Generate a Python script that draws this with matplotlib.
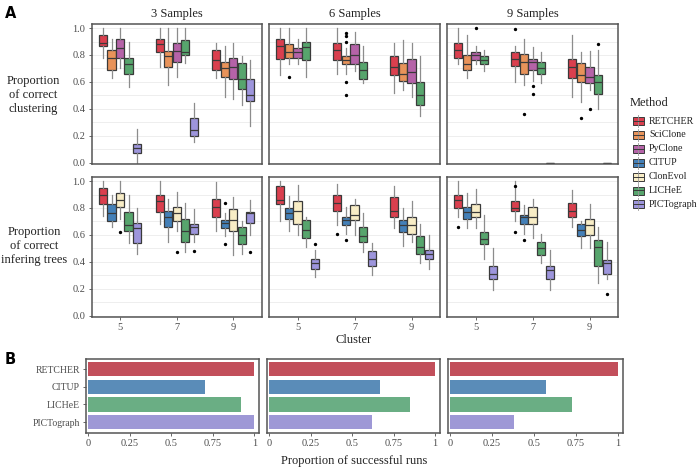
import matplotlib
matplotlib.use("Agg")
import matplotlib.pyplot as plt
from matplotlib.patches import Rectangle
import numpy as np

plt.rcParams["font.family"] = ["Liberation Serif", "DejaVu Serif"]

W, H = 700, 470

CLUSTERS = ["5", "7", "9"]
SAMPLES = ["3 Samples", "6 Samples", "9 Samples"]
METHODS = ["RETCHER", "SciClone", "PyClone", "CITUP", "ClonEvol", "LICHeE", "PICTograph"]
CLUST_METHODS = ["RETCHER", "SciClone", "PyClone", "LICHeE", "PICTograph"]
TREE_METHODS = ["RETCHER", "CITUP", "ClonEvol", "LICHeE", "PICTograph"]
BAR_METHODS = ["RETCHER", "CITUP", "LICHeE", "PICTograph"]

COLORS = {
    "RETCHER": "#DA3F4E",
    "SciClone": "#E8935A",
    "PyClone": "#B563A8",
    "CITUP": "#4480B8",
    "ClonEvol": "#F8EDC6",
    "LICHeE": "#57A56D",
    "PICTograph": "#9D95DC",
}
BAR_COLORS = {
    "RETCHER": "#C24F5B",
    "CITUP": "#5A8CB8",
    "LICHeE": "#6AAE84",
    "PICTograph": "#9E98D6",
}

# (whisker low, q1, median, q3, whisker high) for clusters 5, 7, 9
CLUST_S3 = {
    "RETCHER": [(0.78, 0.87, 0.89, 0.95, 1.00), (0.71, 0.82, 0.88, 0.92, 1.00), (0.63, 0.69, 0.76, 0.84, 0.89)],
    "SciClone": [(0.63, 0.69, 0.78, 0.84, 0.92), (0.58, 0.71, 0.79, 0.83, 1.00), (0.49, 0.64, 0.70, 0.75, 0.87)],
    "PyClone": [(0.70, 0.78, 0.85, 0.92, 1.00), (0.64, 0.75, 0.83, 0.89, 1.00), (0.47, 0.62, 0.71, 0.78, 0.89)],
    "LICHeE": [(0.56, 0.66, 0.73, 0.78, 0.90), (0.74, 0.80, 0.82, 0.91, 1.00), (0.43, 0.55, 0.62, 0.74, 0.79)],
    "PICTograph": [(0.00, 0.07, 0.11, 0.14, 0.25), (0.15, 0.20, 0.24, 0.33, 0.44), (0.27, 0.46, 0.50, 0.62, 0.76)],
}
CLUST_S6 = {
    "RETCHER": [(0.65, 0.77, 0.87, 0.92, 1.00), (0.66, 0.76, 0.84, 0.89, 1.00), (0.52, 0.65, 0.71, 0.79, 0.89)],
    "SciClone": [(0.73, 0.78, 0.82, 0.88, 1.00), (0.66, 0.73, 0.76, 0.79, 0.85), (0.54, 0.61, 0.66, 0.74, 0.91)],
    "PyClone": [(0.73, 0.78, 0.82, 0.85, 0.92), (0.68, 0.73, 0.80, 0.88, 0.97), (0.49, 0.59, 0.67, 0.77, 0.89)],
    "LICHeE": [(0.64, 0.76, 0.86, 0.90, 1.00), (0.59, 0.62, 0.69, 0.75, 0.87), (0.35, 0.43, 0.50, 0.60, 0.79)],
    "PICTograph": [None, None, None],
}
CLUST_S9 = {
    "RETCHER": [(0.73, 0.78, 0.84, 0.89, 1.00), (0.60, 0.72, 0.77, 0.82, 0.87), (0.49, 0.63, 0.71, 0.77, 0.95)],
    "SciClone": [(0.63, 0.69, 0.73, 0.80, 0.95), (0.58, 0.66, 0.75, 0.81, 0.92), (0.45, 0.60, 0.65, 0.74, 0.82)],
    "PyClone": [(0.73, 0.76, 0.80, 0.82, 0.87), (0.61, 0.69, 0.75, 0.77, 0.86), (0.54, 0.59, 0.64, 0.71, 0.83)],
    "LICHeE": [(0.68, 0.73, 0.76, 0.79, 0.84), (0.59, 0.66, 0.70, 0.75, 0.82), (0.40, 0.51, 0.60, 0.65, 0.84)],
    "PICTograph": [None, (0.0, 0.0, 0.0, 0.0, 0.0), (0.0, 0.0, 0.0, 0.0, 0.0)],
}
TREE_S3 = {
    "RETCHER": [(0.74, 0.83, 0.90, 0.95, 1.00), (0.68, 0.77, 0.85, 0.90, 1.00), (0.63, 0.73, 0.81, 0.87, 0.99)],
    "CITUP": [(0.66, 0.70, 0.76, 0.83, 0.90), (0.55, 0.66, 0.73, 0.78, 0.87), (0.59, 0.65, 0.69, 0.71, 0.76)],
    "ClonEvol": [(0.72, 0.81, 0.86, 0.91, 1.00), (0.63, 0.70, 0.76, 0.81, 0.92), (0.45, 0.63, 0.71, 0.79, 0.88)],
    "LICHeE": [(0.54, 0.63, 0.67, 0.77, 0.90), (0.47, 0.55, 0.63, 0.72, 0.84), (0.46, 0.53, 0.60, 0.66, 0.70)],
    "PICTograph": [(0.46, 0.54, 0.65, 0.69, 0.80), (0.55, 0.61, 0.66, 0.68, 0.79), (0.60, 0.69, 0.76, 0.77, 0.86)],
}
TREE_S6 = {
    "RETCHER": [(0.70, 0.83, 0.86, 0.96, 1.00), (0.67, 0.78, 0.84, 0.90, 0.98), (0.65, 0.73, 0.78, 0.88, 0.96)],
    "CITUP": [(0.63, 0.72, 0.76, 0.80, 0.89), (0.61, 0.67, 0.71, 0.73, 0.81), (0.52, 0.62, 0.67, 0.71, 0.80)],
    "ClonEvol": [(0.60, 0.68, 0.78, 0.85, 0.97), (0.60, 0.71, 0.75, 0.82, 0.87), (0.55, 0.61, 0.67, 0.73, 0.85)],
    "LICHeE": [(0.51, 0.58, 0.64, 0.71, 0.73), (0.47, 0.55, 0.59, 0.66, 0.76), (0.39, 0.46, 0.51, 0.59, 0.68)],
    "PICTograph": [(0.29, 0.35, 0.39, 0.42, 0.49), (0.30, 0.37, 0.42, 0.48, 0.54), (0.35, 0.42, 0.46, 0.49, 0.60)],
}
TREE_S9 = {
    "RETCHER": [(0.73, 0.80, 0.86, 0.90, 1.00), (0.70, 0.78, 0.80, 0.85, 1.00), (0.66, 0.73, 0.78, 0.84, 0.93)],
    "CITUP": [(0.65, 0.72, 0.77, 0.81, 0.91), (0.61, 0.68, 0.73, 0.75, 0.82), (0.50, 0.59, 0.64, 0.68, 0.70)],
    "ClonEvol": [(0.65, 0.73, 0.77, 0.83, 0.94), (0.58, 0.68, 0.73, 0.81, 0.87), (0.50, 0.60, 0.67, 0.72, 0.83)],
    "LICHeE": [(0.42, 0.53, 0.57, 0.62, 0.75), (0.39, 0.45, 0.50, 0.55, 0.61), (0.24, 0.37, 0.51, 0.56, 0.66)],
    "PICTograph": [(0.19, 0.27, 0.31, 0.37, 0.50), (0.19, 0.27, 0.34, 0.37, 0.49), (0.27, 0.31, 0.39, 0.41, 0.55)],
}

# outliers: (method, cluster index) -> values
CLUST_OUT_S3 = {}
CLUST_OUT_S6 = {("SciClone", 0): [0.64], ("SciClone", 1): [0.96, 0.94, 0.90, 0.60, 0.50]}
CLUST_OUT_S9 = {("PyClone", 0): [1.00], ("RETCHER", 1): [0.99], ("SciClone", 1): [0.36],
                ("PyClone", 1): [0.57, 0.51], ("SciClone", 2): [0.33], ("PyClone", 2): [0.40],
                ("LICHeE", 2): [0.88]}
TREE_OUT_S3 = {("ClonEvol", 0): [0.62], ("ClonEvol", 1): [0.47], ("PICTograph", 1): [0.48],
               ("CITUP", 2): [0.84, 0.53], ("PICTograph", 2): [0.47]}
TREE_OUT_S6 = {("PICTograph", 0): [0.53], ("RETCHER", 1): [0.61], ("CITUP", 1): [0.56]}
TREE_OUT_S9 = {("RETCHER", 0): [0.66], ("RETCHER", 1): [0.96, 0.62], ("CITUP", 1): [0.56],
               ("PICTograph", 2): [0.16]}

# proportion of successful runs (RETCHER, CITUP, LICHeE, PICTograph)
SUCCESS_S3 = [1.00, 0.70, 0.92, 1.00]
SUCCESS_S6 = [1.00, 0.67, 0.85, 0.62]
SUCCESS_S9 = [1.00, 0.57, 0.73, 0.38]

EDGE = "#3A3A3A"
SPINE = "#555555"
TICKC = "#4D4D4D"


def px_axes(fig, x0, y0, x1, y1):
    return fig.add_axes([x0 / W, 1 - y1 / H, (x1 - x0) / W, (y1 - y0) / H])


def style_frame(ax):
    for sp in ax.spines.values():
        sp.set_color(SPINE)
        sp.set_linewidth(1.1)
    ax.tick_params(colors=TICKC, labelsize=7.5, length=2.5, width=0.6, pad=2)


def draw_boxes(ax, data, outliers, order):
    slot = 0.75 / len(order)
    for j, m in enumerate(order):
        offset = -0.375 + slot * (j + 0.5)
        for k, st in enumerate(data[m]):
            if st is None:
                continue
            lo, q1, med, q3, hi = st
            stats = [dict(whislo=lo, q1=q1, med=med, q3=q3, whishi=hi,
                          fliers=outliers.get((m, k), []))]
            ax.bxp(stats, positions=[k + 1 + offset], widths=slot * 0.95,
                   patch_artist=True, showcaps=False, manage_ticks=False,
                   boxprops=dict(facecolor=COLORS[m], edgecolor=EDGE, linewidth=0.9),
                   medianprops=dict(color=EDGE, linewidth=0.9),
                   whiskerprops=dict(color="#8C8C8C", linewidth=0.9),
                   flierprops=dict(marker="o", markersize=1.4, markerfacecolor="black",
                                   markeredgecolor="black"))
    ax.set_xlim(0.5, 3.5)
    ax.set_ylim(-0.01, 1.03)
    ax.set_yticks(np.arange(0, 1.01, 0.2))
    ax.set_yticks(np.arange(0.1, 1.0, 0.2), minor=True)
    ax.grid(which="both", axis="y", color="#EBEBEB", linewidth=0.6)
    ax.set_axisbelow(True)
    ax.tick_params(which="minor", length=0)
    style_frame(ax)


fig = plt.figure(figsize=(W / 100, H / 100), dpi=100)

col_x = [(91.7, 261.7), (269, 440), (447, 618)]
clust_data = [(CLUST_S3, CLUST_OUT_S3), (CLUST_S6, CLUST_OUT_S6), (CLUST_S9, CLUST_OUT_S9)]
tree_data = [(TREE_S3, TREE_OUT_S3), (TREE_S6, TREE_OUT_S6), (TREE_S9, TREE_OUT_S9)]

for i, (x0, x1) in enumerate(col_x):
    ax1 = px_axes(fig, x0, 24, x1, 164)
    draw_boxes(ax1, clust_data[i][0], clust_data[i][1], CLUST_METHODS)
    ax1.set_xticks([1, 2, 3])
    ax1.tick_params(axis="x", length=0, labelbottom=False)
    ax1.set_title(SAMPLES[i], fontsize=9, pad=5, color="#222222")

    ax2 = px_axes(fig, x0, 177, x1, 317)
    draw_boxes(ax2, tree_data[i][0], tree_data[i][1], TREE_METHODS)
    ax2.set_xticks([1, 2, 3])
    ax2.set_xticklabels(CLUSTERS)
    if i > 0:
        ax1.tick_params(axis="y", length=0, labelleft=False)
        ax2.tick_params(axis="y", length=0, labelleft=False)

fig.text(354 / W, 1 - 340 / H, "Cluster", ha="center", va="center", fontsize=9, color="#222222")

fig.text(33 / W, 1 - 95 / H, "Proportion\nof correct\nclustering", ha="center", va="center",
         fontsize=9, linespacing=1.25, color="#222222")
fig.text(34 / W, 1 - 246 / H, "Proportion\nof correct\ninfering trees", ha="center", va="center",
         fontsize=9, linespacing=1.25, color="#222222")

# panel B
bar_x = [(86, 259.3), (266.7, 440), (447.7, 622.7)]
success = [SUCCESS_S3, SUCCESS_S6, SUCCESS_S9]
ypos = np.arange(len(BAR_METHODS))
for i, (x0, x1) in enumerate(bar_x):
    ax = px_axes(fig, x0, 358.5, x1, 432.7)
    ax.barh(ypos, success[i], height=0.8, color=[BAR_COLORS[m] for m in BAR_METHODS])
    ax.set_xlim(-0.015, 1.03)
    ax.set_ylim(3.6, -0.6)
    ax.set_xticks([0, 0.25, 0.5, 0.75, 1])
    ax.set_xticklabels(["0", "0.25", "0.5", "0.75", "1"])
    ax.set_yticks(ypos)
    ax.set_yticklabels(BAR_METHODS)
    style_frame(ax)
    ax.tick_params(axis="y", labelsize=7)
    if i > 0:
        ax.tick_params(axis="y", length=0, labelleft=False)

fig.text(354 / W, 1 - 461 / H, "Proportion of successful runs", ha="center", va="center",
         fontsize=9, color="#222222")

# legend
lax = px_axes(fig, 625, 90, 700, 215)
lax.set_xlim(625, 700)
lax.set_ylim(215, 90)
lax.axis("off")
lax.text(630, 103, "Method", fontsize=9, va="center", ha="left", color="#222222")
for r, m in enumerate(METHODS):
    yc = 121 + r * 13.9
    lax.plot([638, 638], [yc - 6, yc + 6], color="#9A9A9A", lw=0.6)
    lax.add_patch(Rectangle((632.5, yc - 4), 11, 8, facecolor=COLORS[m], edgecolor=EDGE, lw=0.7))
    lax.plot([632.5, 643.5], [yc, yc], color=EDGE, lw=0.7)
    lax.text(649, yc, m, fontsize=7.2, va="center", ha="left", color="#222222")

fig.text(11 / W, 1 - 13 / H, "A", fontsize=10.5, fontweight="bold", family="DejaVu Sans",
         ha="center", va="center")
fig.text(10 / W, 1 - 359 / H, "B", fontsize=10.5, fontweight="bold", family="DejaVu Sans",
         ha="center", va="center")

fig.savefig("out.png", dpi=100)
